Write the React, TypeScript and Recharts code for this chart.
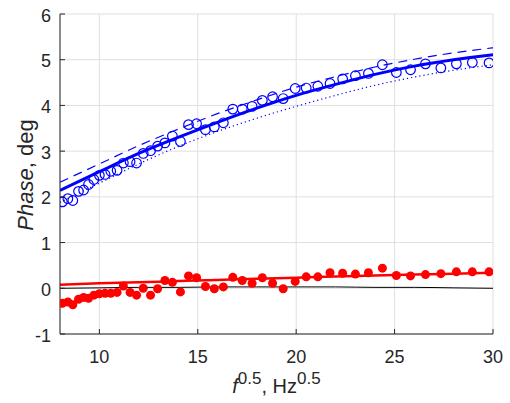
import { ComposedChart, Line, Scatter, XAxis, YAxis, CartesianGrid } from "recharts";

// sqrt of frequency, shared by both measured series
const freq = [
  8.12, 8.4, 8.65, 8.94, 9.2, 9.45, 9.72, 10.0, 10.29, 10.58, 10.9, 11.22, 11.56, 11.89, 12.23,
  12.6, 12.96, 13.33, 13.71, 14.12, 14.53, 14.94, 15.39, 15.84, 16.3, 16.78, 17.26, 17.76, 18.28,
  18.8, 19.34, 19.95, 20.51, 21.1, 21.72, 22.36, 23.01, 23.67, 24.38, 25.09, 25.81, 26.57, 27.35,
  28.14, 28.95, 29.8,
];

const phaseOpen = [
  1.89, 1.96, 1.92, 2.12, 2.15, 2.27, 2.38, 2.47, 2.49, 2.56, 2.58, 2.74, 2.77, 2.74, 2.95, 3.01,
  3.11, 3.18, 3.33, 3.21, 3.58, 3.6, 3.47, 3.53, 3.62, 3.92, 3.92, 3.98, 4.11, 4.19, 4.15, 4.37,
  4.38, 4.42, 4.48, 4.58, 4.65, 4.7, 4.89, 4.72, 4.78, 4.91, 4.82, 4.91, 4.94, 4.93,
];

const phaseFilled = [
  -0.33, -0.3, -0.36, -0.24, -0.2, -0.22, -0.15, -0.12, -0.11, -0.11, -0.09, 0.05, -0.09, -0.15,
  0.0, -0.15, -0.01, 0.17, 0.13, -0.08, 0.27, 0.23, 0.04, -0.01, 0.03, 0.24, 0.17, 0.11, 0.23, 0.11,
  -0.01, 0.15, 0.25, 0.25, 0.34, 0.33, 0.31, 0.34, 0.44, 0.28, 0.27, 0.3, 0.32, 0.36, 0.36, 0.36,
];

// model curves
const fitFreq = [8, 10, 12, 14, 16, 18, 20, 22, 24, 26, 28, 30];
const fitMain = [2.14, 2.55, 2.95, 3.3, 3.63, 3.94, 4.22, 4.46, 4.68, 4.86, 5.0, 5.11];
const fitUpper = [2.32, 2.72, 3.12, 3.48, 3.82, 4.12, 4.4, 4.63, 4.84, 5.01, 5.15, 5.26];
const fitLower = [1.88, 2.3, 2.72, 3.1, 3.43, 3.72, 3.98, 4.22, 4.44, 4.62, 4.77, 4.89];
const fitRed = [0.08, 0.11, 0.13, 0.16, 0.18, 0.21, 0.23, 0.26, 0.28, 0.3, 0.32, 0.34];
const fitZero = [0.0, 0.01, 0.02, 0.02, 0.03, 0.03, 0.03, 0.03, 0.02, 0.02, 0.01, 0.0];

const xTicks = [10, 15, 20, 25, 30];
const yTicks = [-1, 0, 1, 2, 3, 4, 5, 6];

const AXIS = "#262626";
const GRID = "#dfdfdf";
const BLUE = "#0000ff";
const RED = "#ff0000";
const FONT = "'Liberation Sans', Arial, Helvetica, sans-serif";

const toPoints = (xs: number[], ys: number[]) => xs.map((f, i) => ({ f, v: ys[i] }));

const openPts = toPoints(freq, phaseOpen);
const filledPts = toPoints(freq, phaseFilled);

function BottomTick({ x, y, payload }: any) {
  return (
    <g>
      <line x1={x} y1={y} x2={x} y2={y - 5} stroke={AXIS} />
      <text x={x} y={y + 29} textAnchor="middle" fontSize={18} fill={AXIS} fontFamily={FONT}>
        {payload.value}
      </text>
    </g>
  );
}

function TopTick({ x, y }: any) {
  return <line x1={x} y1={y} x2={x} y2={y + 5} stroke={AXIS} />;
}

function LeftTick({ x, y, payload }: any) {
  return (
    <g>
      <line x1={x} y1={y} x2={x + 5} y2={y} stroke={AXIS} />
      <text x={x - 9} y={y + 7.5} textAnchor="end" fontSize={18} fill={AXIS} fontFamily={FONT}>
        {payload.value}
      </text>
    </g>
  );
}

function RightTick({ x, y }: any) {
  return <line x1={x} y1={y} x2={x - 5} y2={y} stroke={AXIS} />;
}

function XTitle({ viewBox }: any) {
  const cx = viewBox.x + viewBox.width / 2;
  return (
    <text x={cx} y={viewBox.y + 59} textAnchor="middle" fontSize={20} fill={AXIS} fontFamily={FONT}>
      <tspan fontStyle="italic">f</tspan>
      <tspan fontSize={17} dy={-9}>0.5</tspan>
      <tspan dy={9}>, Hz</tspan>
      <tspan fontSize={17} dy={-9}>0.5</tspan>
    </text>
  );
}

function YTitle({ viewBox }: any) {
  const cy = viewBox.y + viewBox.height / 2 + 1;
  return (
    <text
      x={33}
      y={cy}
      transform={`rotate(-90 33 ${cy})`}
      textAnchor="middle"
      fontSize={22}
      fill={AXIS}
      fontFamily={FONT}
    >
      <tspan fontStyle="italic">Phase</tspan>
      <tspan>, deg</tspan>
    </text>
  );
}

const openCircle = (p: any) => (
  <circle cx={p.cx} cy={p.cy} r={4.8} fill="none" stroke={BLUE} strokeWidth={1.2} />
);
const filledDot = (p: any) => <circle cx={p.cx} cy={p.cy} r={4.5} fill={RED} />;

export default function App() {
  return (
    <div style={{ position: "absolute", left: 0, top: 0 }}>
      <ComposedChart width={510} height={403} margin={{ top: 14, right: 17, bottom: 0, left: 0 }}>
        <CartesianGrid stroke={GRID} />
        <XAxis
          dataKey="f"
          type="number"
          domain={[8, 30]}
          ticks={xTicks}
          interval={0}
          allowDataOverflow
          height={69}
          stroke={AXIS}
          tickLine={false}
          tickSize={0}
          tickMargin={0}
          tick={<BottomTick />}
          label={{ content: (props: any) => <XTitle {...props} /> }}
        />
        <XAxis
          xAxisId="top"
          orientation="top"
          dataKey="f"
          type="number"
          domain={[8, 30]}
          ticks={xTicks}
          interval={0}
          allowDataOverflow
          height={0}
          stroke={AXIS}
          tickLine={false}
          tickSize={0}
          tickMargin={0}
          tick={<TopTick />}
        />
        <YAxis
          type="number"
          domain={[-1, 6]}
          ticks={yTicks}
          interval={0}
          allowDataOverflow
          width={60}
          stroke={AXIS}
          tickLine={false}
          tickSize={0}
          tickMargin={0}
          tick={<LeftTick />}
          label={{ content: (props: any) => <YTitle {...props} /> }}
        />
        <YAxis
          yAxisId="right"
          orientation="right"
          type="number"
          domain={[-1, 6]}
          ticks={yTicks}
          interval={0}
          allowDataOverflow
          width={0}
          stroke={AXIS}
          tickLine={false}
          tickSize={0}
          tickMargin={0}
          tick={<RightTick />}
        />
        <Line
          data={toPoints(fitFreq, fitZero)}
          dataKey="v"
          type="monotone"
          stroke="#000000"
          strokeWidth={1}
          dot={false}
          isAnimationActive={false}
        />
        <Scatter data={openPts} dataKey="v" shape={openCircle} isAnimationActive={false} />
        <Scatter data={filledPts} dataKey="v" shape={filledDot} isAnimationActive={false} />
        <Line
          data={toPoints(fitFreq, fitLower)}
          dataKey="v"
          type="monotone"
          stroke={BLUE}
          strokeWidth={1.2}
          strokeDasharray="1.2 3"
          dot={false}
          isAnimationActive={false}
        />
        <Line
          data={toPoints(fitFreq, fitUpper)}
          dataKey="v"
          type="monotone"
          stroke={BLUE}
          strokeWidth={1.2}
          strokeDasharray="9 6"
          dot={false}
          isAnimationActive={false}
        />
        <Line
          data={toPoints(fitFreq, fitMain)}
          dataKey="v"
          type="monotone"
          stroke={BLUE}
          strokeWidth={3}
          dot={false}
          isAnimationActive={false}
        />
        <Line
          data={toPoints(fitFreq, fitRed)}
          dataKey="v"
          type="monotone"
          stroke={RED}
          strokeWidth={2.5}
          dot={false}
          isAnimationActive={false}
        />
      </ComposedChart>
    </div>
  );
}
